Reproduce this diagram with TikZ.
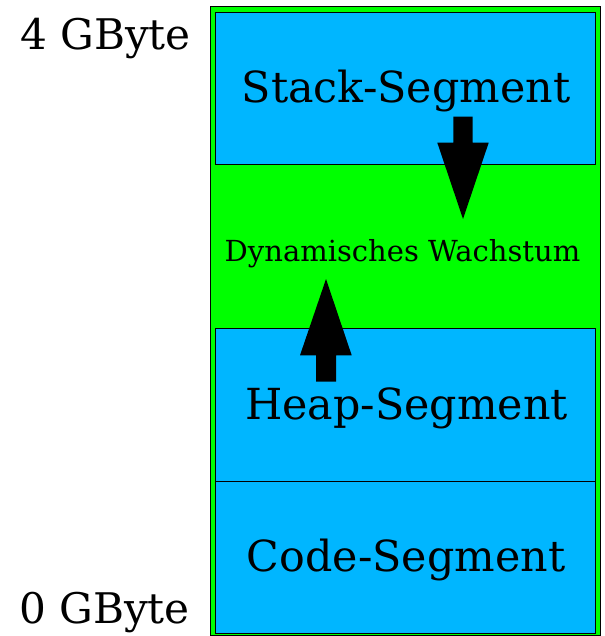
\documentclass[tikz,border=0pt]{standalone}
\usepackage{fontspec}
\setmainfont{DejaVu Serif}
\definecolor{memgreen}{RGB}{0,255,0}
\definecolor{segblue}{RGB}{0,182,255}
\begin{document}
\begin{tikzpicture}[x=1pt,y=-1pt,
  segment/.style={draw=black,line width=0.8pt,fill=segblue},
  bigtext/.style={font=\fontsize{42.8}{50}\selectfont,anchor=base,inner sep=0pt},
  sidetext/.style={font=\fontsize{42.2}{50}\selectfont,anchor=base,inner sep=0pt},
  smalltext/.style={font=\fontsize{29}{34}\selectfont,anchor=base,inner sep=0pt},
  blockarrow/.style={fill=black}]
\useasboundingbox (0,0) rectangle (604,636);
% address space
\draw[fill=memgreen,line width=0.8pt] (210.5,6.5) rectangle (600,635.5);
% segments
\draw[segment] (215.5,12) rectangle (595.5,164);
\draw[segment] (215.5,328.7) rectangle (595.5,481.7);
\draw[segment] (215.5,481.7) rectangle (595.5,633.7);
% labels
\node[bigtext] (stack) at (406,103) {Stack-Segment};
\node[bigtext] (heap) at (406.5,419) {Heap-Segment};
\node[bigtext] (code) at (406,571.5) {Code-Segment};
\node[smalltext] (grow) at (402.5,261.7) {Dynamisches Wachstum};
\node[sidetext] (top) at (105.5,50) {4 GByte};
\node[sidetext] (bottom) at (104.5,623) {0 GByte};
% growth arrows
\fill[blockarrow] (453.3,116.7) -- (472.7,116.7) -- (472.7,142.7) -- (488.7,142.7)
  -- (463,219) -- (437.3,142.7) -- (453.3,142.7) -- cycle;
\fill[blockarrow] (316,381.7) -- (336,381.7) -- (336,355.3) -- (351.7,355.3)
  -- (326,279) -- (300,355.3) -- (316,355.3) -- cycle;
\end{tikzpicture}
\end{document}
